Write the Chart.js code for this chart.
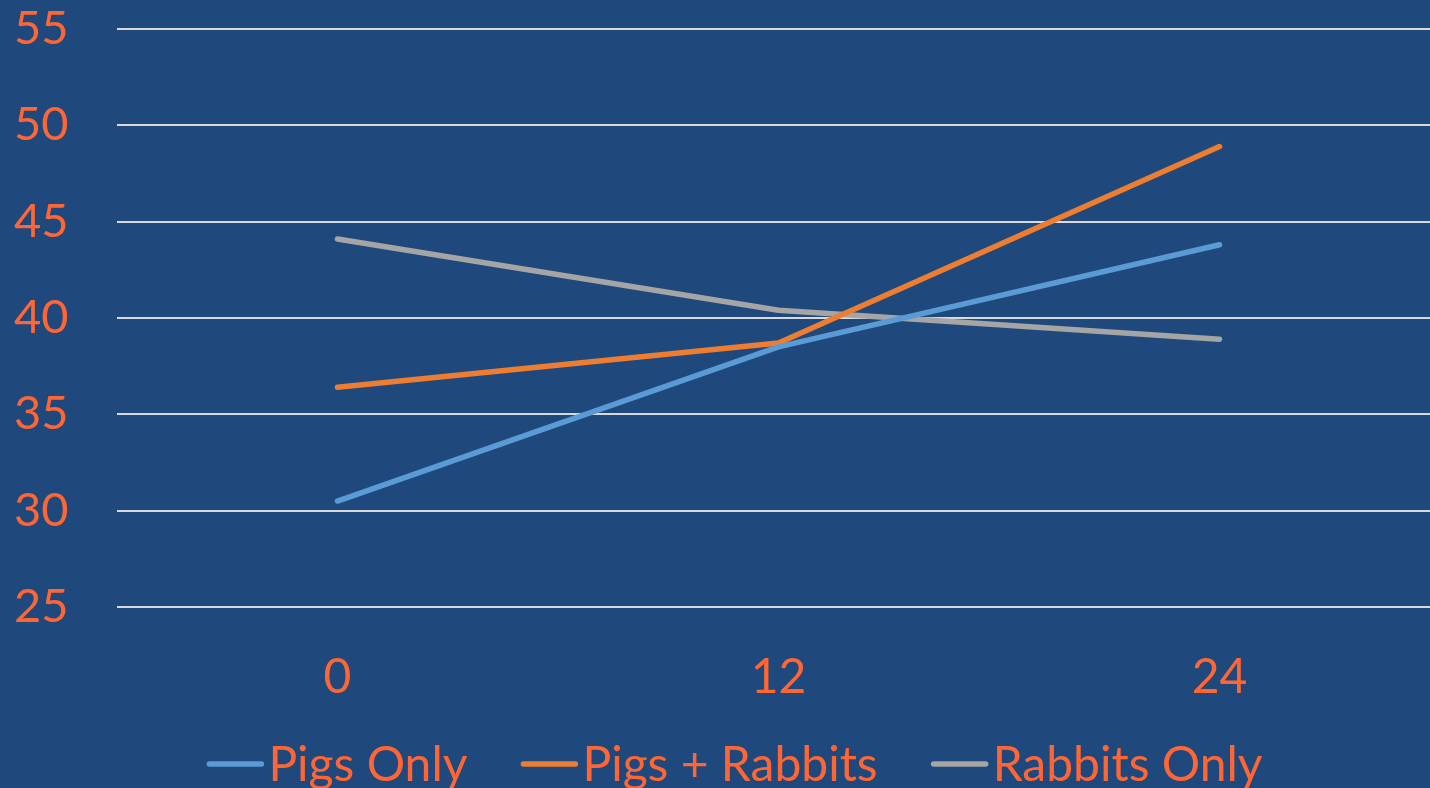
<!DOCTYPE html>
<html>
<head>
<meta charset="utf-8">
<script src="https://cdn.jsdelivr.net/npm/chart.js@4/dist/chart.umd.min.js"></script>
<style>
  html, body { margin: 0; padding: 0; background: #1F497D; overflow: hidden; }
  #wrap { position: absolute; left: 0; top: 0; width: 1440px; height: 788px; }
</style>
</head>
<body>
<div id="wrap"><canvas id="chart"></canvas></div>
<script>
// Time points (x axis) and the three groups measured at each
const months = ['0', '12', '24'];
const pigsOnly = [30.5, 38.5, 43.8];
const pigsRabbits = [36.4, 38.7, 48.9];
const rabbitsOnly = [44.1, 40.4, 38.9];

const seriesNames = ['Pigs Only', 'Pigs + Rabbits', 'Rabbits Only'];
const seriesColors = ['#5B9BD5', '#ED7D31', '#A5A5A5'];

const yMin = 25, yMax = 55, yStep = 5;

const textColor = '#FF6633';
const fontFamily = 'Lato, "Open Sans", sans-serif';

// Bottom legend: short line swatch followed closely by the label
const lineLegend = {
  id: 'lineLegend',
  afterDraw(chart) {
    const ctx = chart.ctx;
    const swatch = 56, gapText = 5, gapItem = 54;
    ctx.save();
    ctx.font = '48px ' + fontFamily;
    const items = chart.data.datasets.map(ds => ({
      label: ds.label, color: ds.borderColor, w: ctx.measureText(ds.label).width
    }));
    const total = items.reduce((s, it) => s + swatch + gapText + it.w, 0) + gapItem * (items.length - 1);
    let x = 735 - total / 2;
    const lineY = 764, baseY = 781;
    items.forEach(it => {
      ctx.strokeStyle = it.color;
      ctx.lineWidth = 5.5;
      ctx.lineCap = 'round';
      ctx.beginPath();
      ctx.moveTo(x + 2, lineY);
      ctx.lineTo(x + swatch - 2, lineY);
      ctx.stroke();
      ctx.fillStyle = textColor;
      ctx.textBaseline = 'alphabetic';
      ctx.textAlign = 'left';
      ctx.fillText(it.label, x + swatch + gapText, baseY);
      x += swatch + gapText + it.w + gapItem;
    });
    ctx.restore();
  }
};

const datasets = [pigsOnly, pigsRabbits, rabbitsOnly].map((vals, i) => ({
  label: seriesNames[i],
  data: vals,
  borderColor: seriesColors[i],
  backgroundColor: seriesColors[i],
  borderWidth: 5.5,
  borderCapStyle: 'round',
  borderJoinStyle: 'round',
  pointRadius: 0,
  pointHoverRadius: 0,
  tension: 0,
  fill: false
}));

new Chart(document.getElementById('chart'), {
  type: 'line',
  data: { labels: months, datasets },
  options: {
    responsive: true,
    maintainAspectRatio: false,
    animation: false,
    layout: { padding: { top: 29, left: 14, right: 0, bottom: 0 } },
    plugins: {
      legend: { display: false },
      tooltip: { enabled: false }
    },
    scales: {
      x: {
        offset: true,
        grid: { display: false, drawTicks: false },
        border: { display: false },
        ticks: {
          color: textColor,
          font: { family: fontFamily, size: 48 },
          padding: 42,
          maxRotation: 0
        },
        afterFit(scale) { scale.height = 181; }
      },
      y: {
        min: yMin,
        max: yMax,
        grid: { color: '#D9D9D9', lineWidth: 2, drawTicks: false },
        border: { display: false },
        ticks: {
          stepSize: yStep,
          color: textColor,
          font: { family: fontFamily, size: 47 },
          crossAlign: 'far',
          padding: 0
        },
        afterFit(scale) { scale.width = 103; }
      }
    }
  },
  plugins: [lineLegend]
});
</script>
</body>
</html>
